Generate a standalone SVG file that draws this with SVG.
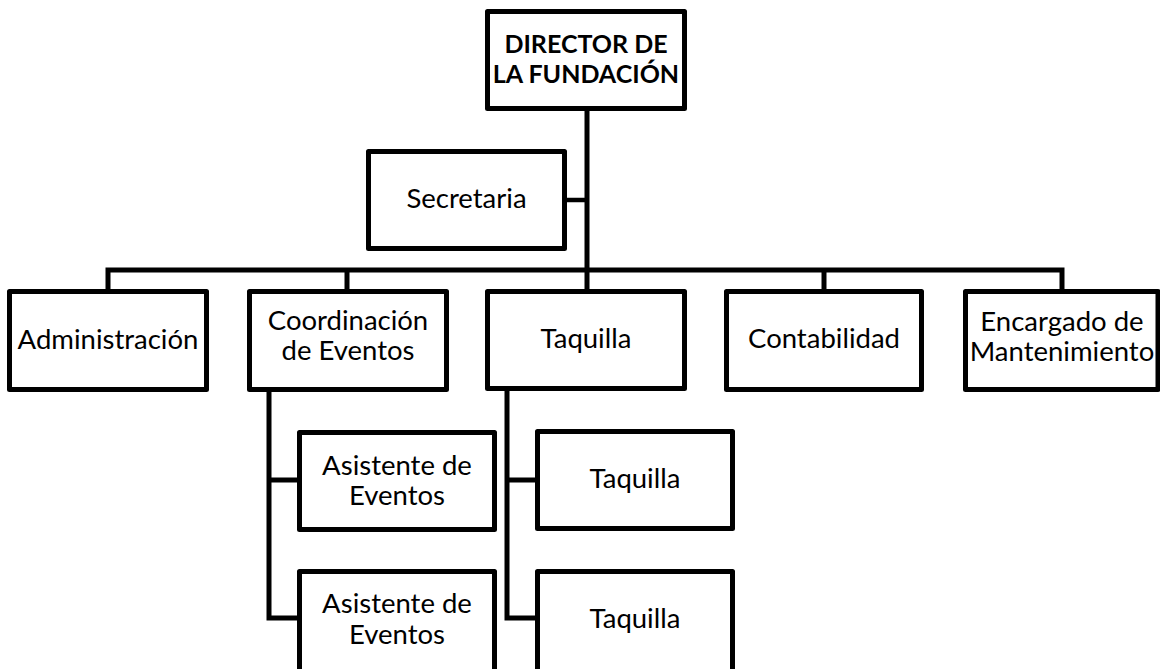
<svg xmlns="http://www.w3.org/2000/svg" width="1160" height="669" viewBox="0 0 1160 669">
<style>
.box{fill:#fff;stroke:#000;stroke-width:5;stroke-linejoin:round}
.ln{fill:none;stroke:#000;stroke-width:5;stroke-linejoin:miter}
.t{font-family:Lato,"Liberation Sans",sans-serif;font-size:27.5px;fill:#000;text-anchor:middle}
.b{font-weight:bold;font-size:25px}
</style>
<rect width="1160" height="669" fill="#fff"/>
<g id="connectors">
<path class="ln" d="M587 111V289"/>
<path class="ln" d="M567 200H587" style="stroke-width:4.5"/>
<path class="ln" d="M108 289V270H1062V289"/>
<path class="ln" d="M347 270V289"/>
<path class="ln" d="M824 270V289"/>
<path class="ln" d="M269 392V618H297M269 480H297"/>
<path class="ln" d="M507 391V618H535M507 480H535"/>
</g>
<g id="director"><rect class="box" x="487.5" y="11.5" width="197" height="97"/><text class="t b" x="586" y="53">DIRECTOR DE</text><text class="t b" x="586" y="83">LA FUNDACIÓN</text></g>
<g id="secretaria"><rect class="box" x="368.5" y="151.5" width="196" height="97"/><text class="t" x="466.5" y="208">Secretaria</text></g>
<g id="administracion"><rect class="box" x="9.5" y="291.5" width="197" height="98"/><text class="t" x="108" y="349">Administración</text></g>
<g id="coordinacion"><rect class="box" x="249.5" y="291.5" width="197" height="98"/><text class="t" x="348" y="330">Coordinación</text><text class="t" x="348" y="360">de Eventos</text></g>
<g id="taquilla"><rect class="box" x="487.5" y="291.5" width="197" height="97"/><text class="t" x="586" y="348">Taquilla</text></g>
<g id="contabilidad"><rect class="box" x="726.5" y="291.5" width="195" height="98"/><text class="t" x="824" y="348">Contabilidad</text></g>
<g id="encargado"><rect class="box" x="965.5" y="291.5" width="192.5" height="98"/><text class="t" x="1062" y="331">Encargado de</text><text class="t" x="1062" y="361">Mantenimiento</text></g>
<g id="asistente1"><rect class="box" x="299.5" y="432.5" width="195" height="97"/><text class="t" x="397" y="475">Asistente de</text><text class="t" x="397" y="505">Eventos</text></g>
<g id="asistente2"><rect class="box" x="299.5" y="571.5" width="195" height="110"/><text class="t" x="397" y="613">Asistente de</text><text class="t" x="397" y="644">Eventos</text></g>
<g id="taquilla1"><rect class="box" x="537.5" y="431.5" width="195" height="97"/><text class="t" x="635" y="488">Taquilla</text></g>
<g id="taquilla2"><rect class="box" x="537.5" y="571.5" width="195" height="110"/><text class="t" x="635" y="628">Taquilla</text></g>
</svg>
